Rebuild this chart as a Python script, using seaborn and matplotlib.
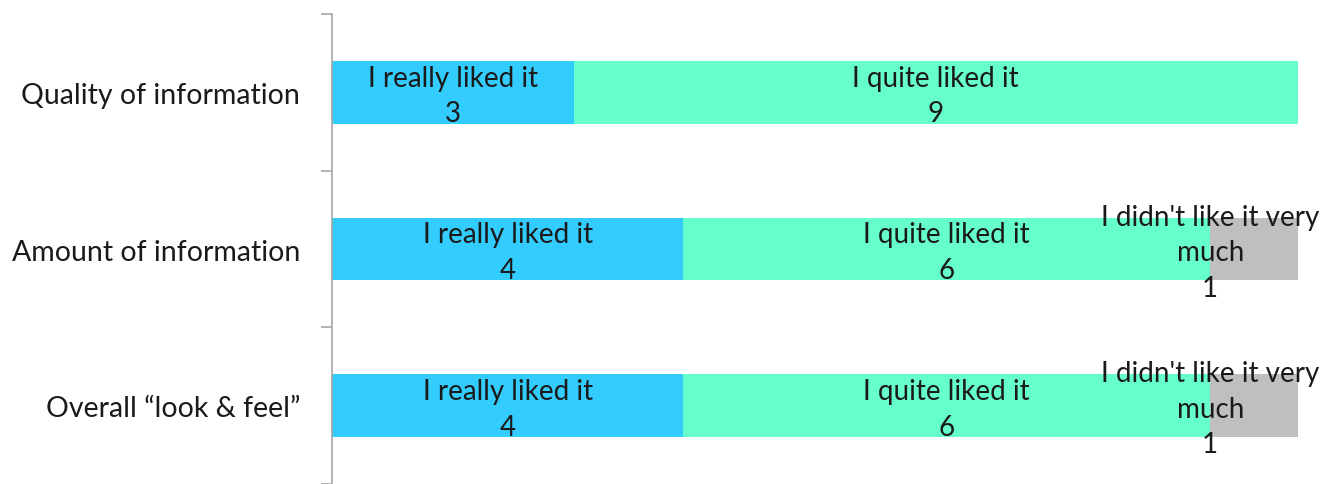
import pandas as pd
import numpy as np
import matplotlib
matplotlib.use("Agg")
import matplotlib.pyplot as plt
import seaborn as sns

# Survey answers (counts of respondents)
categories = ["Quality of information", "Amount of information", "Overall \u201clook & feel\u201d"]
answers = ["I really liked it", "I quite liked it", "I didn't like it very\nmuch"]
really_liked = [3, 4, 4]
quite_liked = [9, 6, 6]
didnt_like = [0, 1, 1]
colors = ["#33CCFF", "#66FFCC", "#BFBFBF"]

sns.set_theme(style="white")
plt.rcParams["font.family"] = ["Lato", "DejaVu Sans"]

counts = pd.DataFrame({answers[0]: really_liked,
                       answers[1]: quite_liked,
                       answers[2]: didnt_like}, index=categories)
shares = counts.div(counts.sum(axis=1), axis=0)
cum = shares.cumsum(axis=1)

fig = plt.figure(figsize=(13.36, 4.85), dpi=100)
ax = fig.add_axes([0.2485, 0.0, 0.9716 - 0.2485, 0.969])

# stacked bars: draw cumulative totals from the back to the front
for i in reversed(range(len(answers))):
    d = pd.DataFrame({"cat": categories, "val": cum.iloc[:, i].values})
    sns.barplot(data=d, x="val", y="cat", orient="h", color=colors[i],
                width=0.4, saturation=1, linewidth=0, ax=ax)

# segment labels (a narrow last segment gets its label pulled left, like Excel does)
for r, cat in enumerate(categories):
    for i, ans in enumerate(answers):
        n = counts.loc[cat, ans]
        if n == 0:
            continue
        left = cum.iloc[r, i] - shares.iloc[r, i]
        xc = left + shares.iloc[r, i] / 2
        if shares.iloc[r, i] < 0.15:
            xc = left
        ax.text(xc, r + 0.02, f"{ans}\n{n}", ha="center", va="center",
                fontsize=20, color="#1a1a1a", linespacing=1.45)

ax.set_xlim(0, 1)
ax.set_ylim(2.5, -0.5)
ax.set_xlabel("")
ax.set_ylabel("")
ax.set_xticks([])
ax.tick_params(axis="y", which="major", length=0, pad=23, labelsize=20.5,
               labelcolor="#1a1a1a")
ax.set_yticks([-0.5, 0.5, 1.5, 2.5], minor=True)
ax.tick_params(axis="y", which="minor", length=8, width=1.2, color="#a6a6a6", left=True)
for s in ["top", "right", "bottom"]:
    ax.spines[s].set_visible(False)
ax.spines["left"].set_color("#a6a6a6")
ax.spines["left"].set_linewidth(1.2)

fig.savefig("out.png", dpi=100)
